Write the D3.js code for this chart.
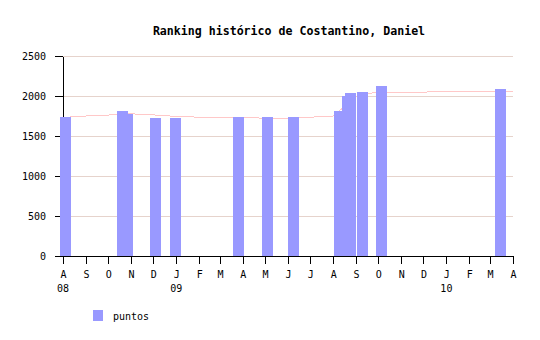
<!DOCTYPE html>
<html><head><meta charset="utf-8">
<script src="https://cdn.jsdelivr.net/npm/d3@7"></script>
<style>
html,body{margin:0;padding:0;background:#fff;}
svg{display:block;}
text{font-family:"DejaVu Sans Mono",monospace;fill:#000;}
</style></head>
<body>
<svg id="chart" width="540" height="340"></svg>
<script>
const title = "Ranking histórico de Costantino, Daniel";
const seriesName = "puntos";
// bars (puntos) at event dates
const barDates = ["2008-08-05","2008-10-20","2008-10-27","2008-12-04","2008-12-31","2009-03-26","2009-05-04","2009-06-08","2009-08-09","2009-08-20","2009-08-24","2009-09-09","2009-10-05","2010-03-15"];
const barValues = [1740,1815,1780,1730,1730,1740,1740,1740,1815,2000,2040,2050,2125,2090];
// thin trend line
const lineDates = ["2008-08-01","2008-09-01","2008-10-01","2008-11-01","2008-12-01","2009-01-01","2009-02-01","2009-03-01","2009-04-01","2009-05-01","2009-06-01","2009-07-01","2009-08-01","2009-08-20","2009-09-05","2009-09-20","2009-10-01","2009-11-01","2010-01-01","2010-03-01","2010-04-01"];
const lineValues = [1732,1750,1762,1777,1764,1745,1735,1735,1733,1722,1722,1735,1748,1900,2020,2035,2045,2047,2052,2060,2061];
const monthLabels = ["A","S","O","N","D","J","F","M","A","M","J","J","A","S","O","N","D","J","F","M","A"];
const yearLabels = [{i:0,t:"08"},{i:5,t:"09"},{i:17,t:"10"}];
const yTicks = [0,500,1000,1500,2000,2500];

const parse = d3.timeParse("%Y-%m-%d");
const svg = d3.select("#chart");
const x0 = 63, x1 = 513, yb = 256, yt = 56;
const x = d3.scaleTime().domain([parse("2008-08-01"), parse("2010-04-01")]).range([x0, x1]);
const y = d3.scaleLinear().domain([0, 2500]).range([yb, yt]);

// grid
svg.append("g").selectAll("line").data(yTicks.slice(1)).join("line")
  .attr("x1", x0).attr("x2", x1)
  .attr("y1", d => Math.round(y(d)) + 0.5).attr("y2", d => Math.round(y(d)) + 0.5)
  .attr("stroke", "#e6d3cc").attr("stroke-width", 1);

// y axis (drawn below bars)
const yAxis = d3.axisLeft(y).tickValues(yTicks).tickSize(8).tickSizeOuter(0).tickPadding(9).tickFormat(d3.format("d"));
const gy = svg.append("g").attr("transform", `translate(${x0},0)`).call(yAxis);
gy.selectAll("text").attr("font-size", "10px").attr("font-family", "DejaVu Sans Mono");
gy.selectAll("line,path").attr("stroke", "#000").attr("shape-rendering", "crispEdges");

// trend line
const lineData = lineDates.map((d, i) => ({d: parse(d), v: lineValues[i]}));
svg.append("path").datum(lineData)
  .attr("d", d3.line().x(p => x(p.d)).y(p => y(p.v)))
  .attr("fill", "none").attr("stroke", "#ffc8c8").attr("stroke-width", 1)
  .attr("shape-rendering", "crispEdges");

// bars
const bw = 11;
svg.append("g").selectAll("rect").data(barDates.map((d, i) => ({d: parse(d), v: barValues[i]}))).join("rect")
  .attr("x", p => Math.round(x(p.d) - bw / 2))
  .attr("width", bw)
  .attr("y", p => Math.round(y(p.v)))
  .attr("height", p => yb - Math.round(y(p.v)))
  .attr("fill", "#9999ff");

// x axis
const months = d3.timeMonth.range(parse("2008-08-01"), d3.timeDay.offset(parse("2010-04-01"), 1));
const xAxis = d3.axisBottom(x).tickValues(months).tickSize(8).tickSizeOuter(0).tickPadding(7)
  .tickFormat((d, i) => monthLabels[i]);
const gx = svg.append("g").attr("transform", `translate(0,${yb})`).call(xAxis);
gx.selectAll("text").attr("font-size", "10px").attr("font-family", "DejaVu Sans Mono");
gx.selectAll("line,path").attr("stroke", "#000").attr("shape-rendering", "crispEdges");

// year labels
svg.append("g").selectAll("text").data(yearLabels).join("text")
  .attr("x", d => x(months[d.i])).attr("y", 292)
  .attr("text-anchor", "middle").attr("font-size", "10px").text(d => d.t);

// title
svg.append("text").attr("x", 289).attr("y", 35).attr("text-anchor", "middle")
  .attr("font-size", "11.6px").attr("font-weight", "bold").text(title);

// legend
svg.append("rect").attr("x", 93).attr("y", 310).attr("width", 10).attr("height", 11).attr("fill", "#9999ff");
svg.append("text").attr("x", 113).attr("y", 320).attr("font-size", "10px").text(seriesName);
</script>
</body></html>
